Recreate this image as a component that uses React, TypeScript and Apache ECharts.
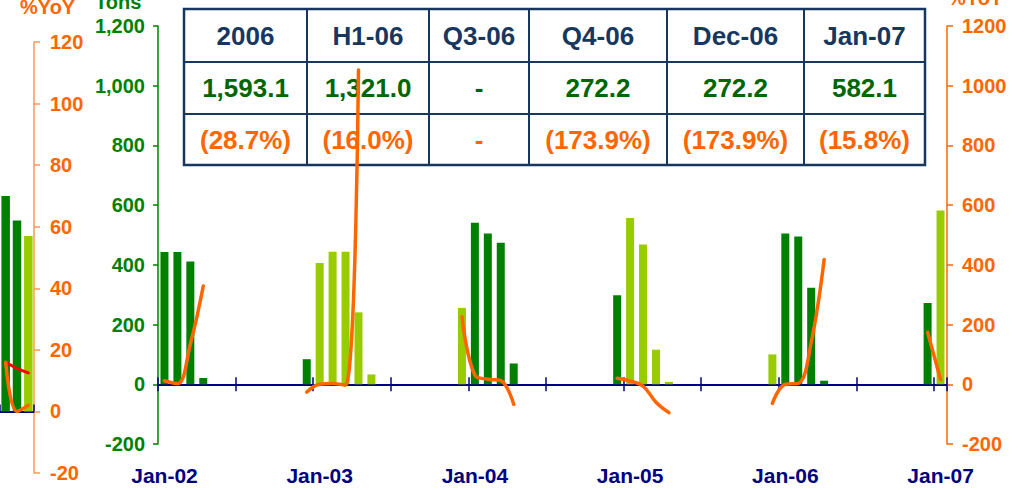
import { useEffect, useRef } from "react";
import * as echarts from "echarts";

const FONT = "Arial, 'Liberation Sans', sans-serif";
const N = null;

// Monthly categories Jan-02 .. Jan-07
const monthNames = ["Jan", "Feb", "Mar", "Apr", "May", "Jun", "Jul", "Aug", "Sep", "Oct", "Nov", "Dec"];
const years = ["02", "03", "04", "05", "06", "07"];
const months: string[] = [];
years.forEach((y, yi) => {
  monthNames.forEach((m, mi) => {
    if (yi < years.length - 1 || mi === 0) months.push(`${m}-${y}`);
  });
});

// Tons, dark green months
const darkTons: (number | null)[] = [
  443, 443, 411, 21, N, N, N, N, N, N, N, 84,
  N, N, N, N, N, N, N, N, N, N, N, N,
  541, 505, 474, 70, N, N, N, N, N, N, N, 298,
  N, N, N, N, N, N, N, N, N, N, N, N,
  505, 495, 323, 12, N, N, N, N, N, N, N, 272.2,
  N,
];
// Tons, light green months
const lightTons: (number | null)[] = [
  N, N, N, N, N, N, N, N, N, N, N, N,
  406, 444, 444, 241, 33, N, N, N, N, N, N, 256,
  N, N, N, N, N, N, N, N, N, N, N, N,
  557, 468, 116, 8, N, N, N, N, N, N, N, 100,
  N, N, N, N, N, N, N, N, N, N, N, N,
  582.1,
];
// %YoY
const yoy: (number | null)[] = [
  12, 2, 135, 329, N, N, N, N, N, N, N, -26,
  0, 3, -3, 1053, N, N, N, N, N, N, N, 226,
  30, 17, 12, -67, N, N, N, N, N, N, N, 20,
  11, -6, -60, -95, N, N, N, N, N, N, N, -64,
  0, 3, 140, 418, N, N, N, N, N, N, N, 174,
  15.8,
];

// Partial neighbouring chart on the left edge
const prevCats = ["p1", "p2", "p3"];
const prevDark: (number | null)[] = [70, 62, N];
const prevLight: (number | null)[] = [N, N, 57];
const prevYoY = [16, 0, 2];
const prevRed = [16, 14, 12.5];

// Summary table
const tableHeaders = ["2006", "H1-06", "Q3-06", "Q4-06", "Dec-06", "Jan-07"];
const tableTons = ["1,593.1", "1,321.0", "-", "272.2", "272.2", "582.1"];
const tableYoY = ["(28.7%)", "(16.0%)", "-", "(173.9%)", "(173.9%)", "(15.8%)"];

const colEdges = [184, 307, 429, 529, 667, 804, 925];
const rowEdges = [9, 62, 114, 165];

const NAVY = "#000080";
const TABLE_NAVY = "#17375E";
const GREEN = "#008000";
const LIGHT = "#99CC00";
const ORANGE = "#FF6600";

function buildTable(): any[] {
  const els: any[] = [];
  const x0 = colEdges[0];
  const x1 = colEdges[colEdges.length - 1];
  const y0 = rowEdges[0];
  const y1 = rowEdges[rowEdges.length - 1];
  els.push({
    type: "rect",
    shape: { x: x0, y: y0, width: x1 - x0, height: y1 - y0 },
    style: { fill: "#ffffff", stroke: TABLE_NAVY, lineWidth: 2.5 },
    z: 0,
  });
  for (let i = 1; i < colEdges.length - 1; i++) {
    els.push({
      type: "line",
      shape: { x1: colEdges[i], y1: y0, x2: colEdges[i], y2: y1 },
      style: { stroke: TABLE_NAVY, lineWidth: 2 },
      z: 0,
    });
  }
  for (let j = 1; j < rowEdges.length - 1; j++) {
    els.push({
      type: "line",
      shape: { x1: x0, y1: rowEdges[j], x2: x1, y2: rowEdges[j] },
      style: { stroke: TABLE_NAVY, lineWidth: 2 },
      z: 0,
    });
  }
  const rows = [
    { texts: tableHeaders, color: TABLE_NAVY },
    { texts: tableTons, color: "#006600" },
    { texts: tableYoY, color: ORANGE },
  ];
  rows.forEach((r, ri) => {
    const cy = (rowEdges[ri] + rowEdges[ri + 1]) / 2;
    r.texts.forEach((t, ci) => {
      const cx = (colEdges[ci] + colEdges[ci + 1]) / 2;
      els.push({
        type: "text",
        z: 1,
        style: {
          text: t,
          x: cx,
          y: cy,
          align: "center",
          verticalAlign: "middle",
          fill: r.color,
          fontFamily: FONT,
          fontWeight: "bold",
          fontSize: 26,
        },
      });
    });
  });
  return els;
}

export default function App() {
  const ref = useRef<HTMLDivElement>(null);
  useEffect(() => {
    if (!ref.current) return;
    const chart = echarts.init(ref.current, undefined, { renderer: "svg" });
    const labelStyle = (color: string, size: number) => ({
      color,
      fontWeight: "bold" as const,
      fontSize: size,
      fontFamily: FONT,
    });
    chart.setOption({
      animation: false,
      backgroundColor: "#ffffff",
      grid: [
        { left: 158, right: 78, top: 26, bottom: 46 },
        { left: -9, right: 991, top: 42, bottom: 17 },
      ],
      xAxis: [
        {
          gridIndex: 0,
          type: "category",
          data: months,
          position: "bottom",
          axisLine: { show: false, onZero: false },
          axisTick: { show: false },
          axisLabel: { interval: 11, margin: 21, ...labelStyle(NAVY, 21) },
        },
        {
          gridIndex: 0,
          type: "category",
          data: months,
          position: "bottom",
          axisLine: { show: true, onZero: true, lineStyle: { color: NAVY, width: 2 } },
          axisTick: { show: true, interval: 5, inside: true, length: 7, lineStyle: { color: NAVY, width: 1.5 } },
          axisLabel: { show: false },
        },
        {
          gridIndex: 0,
          type: "category",
          data: months,
          position: "bottom",
          axisLine: { show: false, onZero: true },
          axisTick: { show: true, interval: 5, inside: false, length: 7, lineStyle: { color: NAVY, width: 1.5 } },
          axisLabel: { show: false },
        },
        {
          gridIndex: 1,
          type: "category",
          data: prevCats,
          position: "bottom",
          axisLine: { show: true, onZero: true, lineStyle: { color: NAVY, width: 2 } },
          axisTick: {
            show: true,
            interval: (i: number) => i === 2,
            inside: true,
            length: 7,
            lineStyle: { color: NAVY, width: 1.5 },
          },
          axisLabel: { show: false },
        },
      ],
      yAxis: [
        {
          gridIndex: 0,
          type: "value",
          position: "left",
          min: -200,
          max: 1200,
          interval: 200,
          splitLine: { show: false },
          axisLine: { show: true, lineStyle: { color: GREEN, width: 1.5 } },
          axisTick: { show: true, length: 5, lineStyle: { color: GREEN, width: 1.5 } },
          axisLabel: {
            margin: 13,
            formatter: (v: number) => v.toLocaleString("en-US"),
            ...labelStyle(GREEN, 20),
          },
        },
        {
          gridIndex: 0,
          type: "value",
          position: "right",
          min: -200,
          max: 1200,
          interval: 200,
          splitLine: { show: false },
          axisLine: { show: true, lineStyle: { color: ORANGE, width: 1.5 } },
          axisTick: { show: true, length: 6, lineStyle: { color: ORANGE, width: 1.5 } },
          axisLabel: { margin: 15, formatter: (v: number) => String(v), ...labelStyle(ORANGE, 20) },
        },
        {
          gridIndex: 1,
          type: "value",
          position: "right",
          min: -20,
          max: 120,
          interval: 20,
          splitLine: { show: false },
          axisLine: { show: true, lineStyle: { color: "#FF9955", width: 1.5 } },
          axisTick: { show: true, length: 6, lineStyle: { color: "#FF9955", width: 1.5 } },
          axisLabel: { margin: 16, formatter: (v: number) => String(v), ...labelStyle(ORANGE, 20) },
        },
      ],
      series: [
        {
          name: "Tons (dark)",
          type: "bar",
          xAxisIndex: 0,
          yAxisIndex: 0,
          data: darkTons,
          barWidth: 8,
          barGap: "-100%",
          itemStyle: { color: GREEN },
        },
        {
          name: "Tons (light)",
          type: "bar",
          xAxisIndex: 0,
          yAxisIndex: 0,
          data: lightTons,
          barWidth: 8,
          barGap: "-100%",
          itemStyle: { color: LIGHT },
        },
        {
          name: "%YoY",
          type: "line",
          xAxisIndex: 0,
          yAxisIndex: 1,
          data: yoy,
          smooth: 0.4,
          showSymbol: false,
          connectNulls: false,
          lineStyle: { color: ORANGE, width: 3.5, cap: "round", join: "round" },
          z: 5,
        },
        {
          name: "prev dark",
          type: "bar",
          xAxisIndex: 3,
          yAxisIndex: 2,
          data: prevDark,
          barWidth: 8.5,
          barGap: "-100%",
          itemStyle: { color: GREEN },
        },
        {
          name: "prev light",
          type: "bar",
          xAxisIndex: 3,
          yAxisIndex: 2,
          data: prevLight,
          barWidth: 8.5,
          barGap: "-100%",
          itemStyle: { color: LIGHT },
        },
        {
          name: "prev red",
          type: "line",
          xAxisIndex: 3,
          yAxisIndex: 2,
          data: prevRed,
          smooth: 0.4,
          showSymbol: false,
          lineStyle: { color: "#FF0000", width: 3, cap: "round" },
          z: 5,
        },
        {
          name: "prev %YoY",
          type: "line",
          xAxisIndex: 3,
          yAxisIndex: 2,
          data: prevYoY,
          smooth: 0.4,
          showSymbol: false,
          lineStyle: { color: ORANGE, width: 3.5, cap: "round" },
          z: 5,
        },
      ],
      graphic: [
        ...buildTable(),
        {
          type: "text",
          style: { text: "%YoY", x: 20, y: 7, verticalAlign: "middle", fill: ORANGE, fontFamily: FONT, fontWeight: "bold", fontSize: 20 },
        },
        {
          type: "text",
          style: { text: "Tons", x: 95, y: 2, verticalAlign: "middle", fill: GREEN, fontFamily: FONT, fontWeight: "bold", fontSize: 20 },
        },
        {
          type: "text",
          style: { text: "%YoY", x: 948, y: -2, verticalAlign: "middle", fill: ORANGE, fontFamily: FONT, fontWeight: "bold", fontSize: 20 },
        },
      ],
    });
    return () => chart.dispose();
  }, []);
  return (
    <div
      ref={ref}
      style={{ position: "absolute", left: 0, top: 0, width: 1025, height: 490 }}
    />
  );
}
